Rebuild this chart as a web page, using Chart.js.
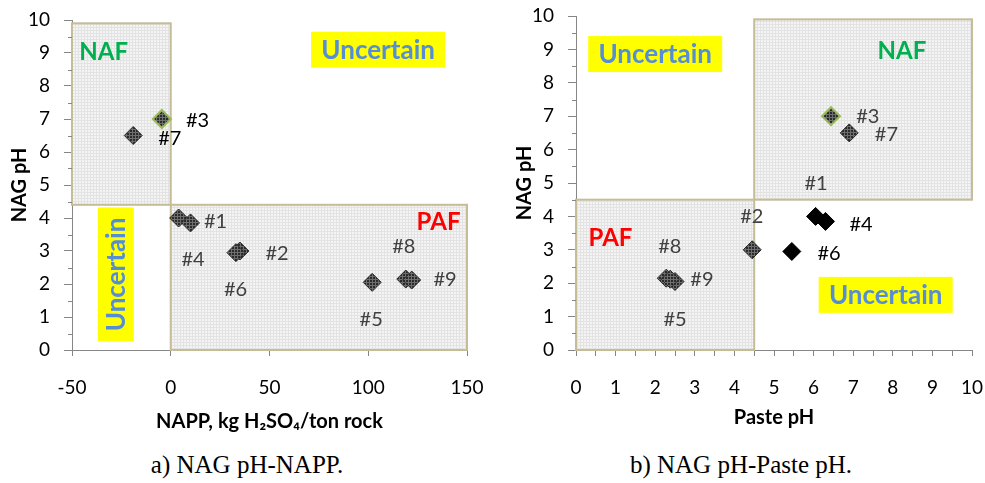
<!DOCTYPE html>
<html>
<head>
<meta charset="utf-8">
<script src="https://cdn.jsdelivr.net/npm/chart.js@4.4.1/dist/chart.umd.min.js"></script>
<style>
  body { margin: 0; background: #fff; width: 985px; height: 483px; overflow: hidden; position: relative; }
  #c1 { position: absolute; left: 0; top: 0; }
  #c2 { position: absolute; left: 490px; top: 0; }
  .cap { position: absolute; top: 451px; font: 25px/28px "Liberation Serif", serif; color: #000;
         white-space: nowrap; transform: translateX(-50%); }
</style>
</head>
<body>
<canvas id="c1" width="490" height="440"></canvas>
<canvas id="c2" width="495" height="440"></canvas>
<div class="cap" style="left:247px">a) NAG pH-NAPP.</div>
<div class="cap" style="left:741px">b) NAG pH-Paste pH.</div>
<script>
// samples and their values
const samples = ["#1", "#2", "#3", "#4", "#5", "#6", "#7", "#8", "#9"];
const nagPH = [4.0, 3.0, 7.0, 3.85, 2.05, 2.95, 6.5, 2.15, 2.12];
const napp = [4, 35, -4.5, 10, 102, 33, -19, 119, 122];
const pastePH = [6.05, 4.45, 6.44, 6.3, 2.5, 5.45, 6.9, 2.28, 2.38];

// where the "#n" tags sit (data units)
const nappTagX = [22.7, 53.8, 13.6, 11.3, 101.5, 32.8, -0.5, 118, 138.9];
const nappTagY = [3.89, 2.93, 6.95, 2.73, 0.91, 1.82, 6.42, 3.13, 2.12];
const pasteTagX = [6.06, 4.44, 7.37, 7.2, 2.5, 6.39, 7.84, 2.37, 3.18];
const pasteTagY = [4.99, 4.01, 6.99, 3.77, 0.92, 2.89, 6.44, 3.11, 2.1];

const solidPaste = ["#1", "#4", "#6"];
const blackTagsNapp = ["#3", "#7"];
const blackTagsPaste = ["#4", "#6"];

// zone boxes [xmin, xmax, ymin, ymax]
const nappZones = [[-50, 0, 4.4, 9.9], [0, 150, 0, 4.4]];
const pasteZones = [[4.5, 10, 4.5, 9.9], [0, 4.5, 0, 4.5]];

const nappWords = [
  { text: "Uncertain", x: 105, y: 9.1, box: true },
  { text: "Uncertain", x: -27.8, y: 2.29, box: true, rot: true },
  { text: "NAF", x: -34, y: 9.06, color: "#00b050" },
  { text: "PAF", x: 135.6, y: 3.91, color: "#ff0000" }
];
const pasteWords = [
  { text: "Uncertain", x: 2.0, y: 8.86, box: true },
  { text: "Uncertain", x: 7.82, y: 1.65, box: true },
  { text: "NAF", x: 8.23, y: 8.97, color: "#00b050" },
  { text: "PAF", x: 0.87, y: 3.39, color: "#ff0000" }
];

function makePattern(bg, line, step) {
  const c = document.createElement("canvas");
  c.width = step; c.height = step;
  const g = c.getContext("2d");
  g.fillStyle = bg; g.fillRect(0, 0, step, step);
  g.fillStyle = line; g.fillRect(0, 0, step, 1); g.fillRect(0, 0, 1, step);
  return g.createPattern(c, "repeat");
}
const zoneFill = makePattern("#f4f4f4", "#e3e3e3", 3);
const dotFill = makePattern("#2b2b2b", "#6e6e6e", 3);

const axisGray = "#868686";
Chart.defaults.font.family = "Lato";
Chart.defaults.color = "#000";

const zonesPlugin = {
  id: "zones",
  beforeDatasetsDraw(chart, args, opts) {
    const { ctx, scales: { x, y } } = chart;
    ctx.save();
    opts.zones.forEach(z => {
      const l = x.getPixelForValue(z[0]), r = x.getPixelForValue(z[1]);
      const t = y.getPixelForValue(z[3]), b = y.getPixelForValue(z[2]);
      ctx.fillStyle = zoneFill;
      ctx.fillRect(l, t, r - l, b - t);
      ctx.strokeStyle = "#c4bd97";
      ctx.lineWidth = 2;
      ctx.strokeRect(l, t, r - l, b - t);
    });
    opts.words.forEach(w => {
      const px = x.getPixelForValue(w.x), py = y.getPixelForValue(w.y);
      ctx.save();
      ctx.translate(px, py);
      if (w.rot) ctx.rotate(-Math.PI / 2);
      ctx.textAlign = "center";
      ctx.textBaseline = "middle";
      if (w.box) {
        ctx.fillStyle = "#ffff00";
        ctx.fillRect(-67, -18, 134, 36);
        ctx.font = "bold 26px Lato";
        ctx.fillStyle = "#558ed5";
      } else {
        ctx.font = "bold 24px Lato";
        ctx.fillStyle = w.color;
      }
      ctx.fillText(w.text, 0, 1);
      ctx.restore();
    });
    ctx.restore();
  },
  afterDatasetsDraw(chart, args, opts) {
    const { ctx, scales: { x, y } } = chart;
    ctx.save();
    ctx.font = "20px Lato";
    ctx.textAlign = "center";
    ctx.textBaseline = "middle";
    samples.forEach((s, i) => {
      ctx.fillStyle = opts.dark.includes(s) ? "#000" : "#404040";
      ctx.fillText(s, x.getPixelForValue(opts.tagX[i]), y.getPixelForValue(opts.tagY[i]));
    });
    // minor ticks on the y axis
    ctx.strokeStyle = axisGray;
    ctx.lineWidth = 1;
    const ax = chart.chartArea.left;
    for (let v = 0.5; v < 10; v += 1) {
      const py = Math.round(y.getPixelForValue(v)) + 0.5;
      ctx.beginPath();
      ctx.moveTo(ax - 4, py);
      ctx.lineTo(ax, py);
      ctx.stroke();
    }
    ctx.restore();
  }
};

function makeChart(id, xs, xOpts, zones, words, tagX, tagY, dark, solid, yW, yTitlePad, pad) {
  return new Chart(document.getElementById(id), {
    type: "scatter",
    data: {
      datasets: [{
        data: xs.map((v, i) => ({ x: v, y: nagPH[i] })),
        pointStyle: "rectRot",
        pointRadius: 9,
        pointHoverRadius: 9,
        pointBackgroundColor: c => solid.includes(samples[c.dataIndex]) ? "#000" : dotFill,
        pointBorderColor: c => samples[c.dataIndex] === "#3" ? "#9bbb59"
          : (solid.includes(samples[c.dataIndex]) ? "#000" : "#2b2b2b"),
        pointBorderWidth: c => samples[c.dataIndex] === "#3" ? 2 : 1
      }]
    },
    options: {
      responsive: false,
      animation: false,
      events: [],
      layout: { padding: pad },
      plugins: {
        legend: { display: false },
        tooltip: { enabled: false },
        zones: { zones: zones, words: words, tagX: tagX, tagY: tagY, dark: dark }
      },
      scales: {
        x: Object.assign({
          type: "linear",
          afterFit: s => { s.height = 90; s.paddingLeft = 0; s.paddingRight = 0; },
          grid: { drawOnChartArea: false, tickLength: 6, color: axisGray },
          border: { color: axisGray, width: 1 }
        }, xOpts),
        y: {
          min: 0, max: 10,
          afterFit: s => { s.width = yW; s.paddingTop = 0; s.paddingBottom = 0; },
          ticks: { stepSize: 1, padding: 14, font: { size: 19 } },
          grid: { drawOnChartArea: false, tickLength: 8, color: axisGray },
          border: { color: axisGray, width: 1 },
          title: { display: true, text: "NAG pH", font: { size: 20, weight: "bold" },
                   padding: { top: yTitlePad, bottom: 0 } }
        }
      }
    },
    plugins: [zonesPlugin]
  });
}

makeChart("c1", napp, {
  min: -50, max: 150,
  ticks: { stepSize: 50, padding: 20, maxRotation: 0, minRotation: 0, font: { size: 19 } },
  title: { display: true, text: "NAPP, kg H\u2082SO\u2084/ton rock", font: { size: 20, weight: "bold" },
           padding: { top: 0, bottom: 6 } }
}, nappZones, nappWords, nappTagX, nappTagY, blackTagsNapp, [], 72, 8,
  { left: 0, right: 23, top: 20, bottom: 0 });

makeChart("c2", pastePH, {
  min: 0, max: 10,
  ticks: { stepSize: 0.5, autoSkip: false, padding: 20, maxRotation: 0, minRotation: 0, font: { size: 19 },
           callback: v => (v % 1 === 0 ? v : "") },
  title: { display: true, text: "Paste pH", font: { size: 20, weight: "bold" },
           padding: { top: 0, bottom: 10 } }
}, pasteZones, pasteWords, pasteTagX, pasteTagY, blackTagsPaste, solidPaste, 86, 23,
  { left: 0, right: 13, top: 16, bottom: 0 });
</script>
</body>
</html>
